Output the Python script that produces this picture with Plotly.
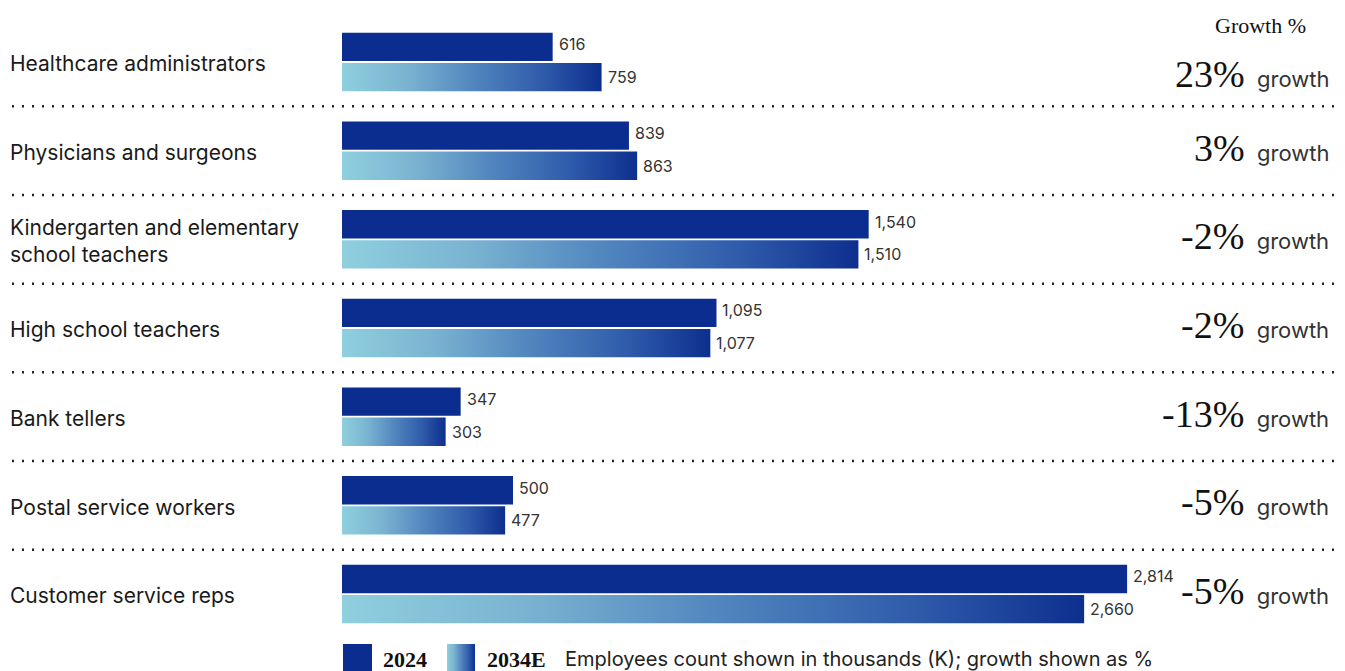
import plotly.graph_objects as go

# ---------------- data ----------------
categories = [
    "Healthcare administrators",
    "Physicians and surgeons",
    "Kindergarten and elementary<br>school teachers",
    "High school teachers",
    "Bank tellers",
    "Postal service workers",
    "Customer service reps",
]
emp_2024 = [616, 839, 1540, 1095, 347, 500, 2814]
emp_2034e = [759, 863, 1510, 1077, 303, 477, 2660]
growth_pct = [23, 3, -2, -2, -13, -5, -5]
series_names = ["2024", "2034E"]
note_text = "Employees count shown in thousands (K); growth shown as %"
header_text = "Growth %"

# ---------------- layout constants ----------------
W, H = 1345, 671
X0_PX = 342            # pixel where bars start
SCALE_MAIN = 0.342     # px per thousand employees (rows 1-6)
SCALE_BIG = 0.279      # compressed scale used for the last row in the original
ROW0_PX = 62
ROW_PITCH = 88.67
BAR_W = 0.32
GAP = 0.01
BIG_ROW = len(categories) - 1

DARK = "#0B2D8F"
GRAD = [[0.0, "#8FCFDE"], [0.25, "#7AB3D1"], [0.5, "#5287BF"],
        [0.78, "#2E5AAA"], [1.0, "#0D2F8E"]]
SANS = "Inter"
SERIF = "Liberation Serif"


def py(p):
    """pixel row -> y data coordinate"""
    return (p - ROW0_PX) / ROW_PITCH


def px_x(p):
    """pixel column -> main x data coordinate"""
    return (p - X0_PX) / SCALE_MAIN


fig = go.Figure()

rows = list(range(len(categories)))
main_rows = [r for r in rows if r != BIG_ROW]

# 2024 bars (solid)
fig.add_trace(go.Bar(
    orientation="h", y=main_rows, x=[emp_2024[r] for r in main_rows],
    width=BAR_W, offset=-(BAR_W + GAP), marker=dict(color=DARK, line=dict(width=0)),
    xaxis="x", yaxis="y", hoverinfo="skip", name=series_names[0]))
fig.add_trace(go.Bar(
    orientation="h", y=[BIG_ROW], x=[emp_2024[BIG_ROW]],
    width=BAR_W, offset=-(BAR_W + GAP), marker=dict(color=DARK, line=dict(width=0)),
    xaxis="x2", yaxis="y", hoverinfo="skip", name=series_names[0]))

# 2034E bars (horizontal gradient fills)
for r in rows:
    v = emp_2034e[r]
    y0, y1 = r + GAP, r + GAP + BAR_W
    fig.add_trace(go.Scatter(
        x=[0, v, v, 0, 0], y=[y0, y0, y1, y1, y0],
        mode="lines", line=dict(width=0, color="rgba(0,0,0,0)"),
        fill="toself", fillgradient=dict(type="horizontal", colorscale=GRAD),
        xaxis="x2" if r == BIG_ROW else "x", yaxis="y",
        hoverinfo="skip", name=series_names[1]))

annotations = []
shapes = []

# value labels
for r in rows:
    xr = "x2" if r == BIG_ROW else "x"
    for val, yy in ((emp_2024[r], r - GAP - BAR_W / 2 - 0.03), (emp_2034e[r], r + GAP + BAR_W / 2)):
        annotations.append(dict(
            x=val, y=yy, xref=xr, yref="y", text=f"{val:,}", showarrow=False,
            xanchor="left", yanchor="middle", xshift=4,
            font=dict(family=SANS, size=16, color="#333333")))

# category labels
for r, cat in enumerate(categories):
    annotations.append(dict(
        x=8 / W, y=r + 0.02, xref="paper", yref="y", text=cat, showarrow=False,
        xanchor="left", yanchor="middle", align="left",
        font=dict(family=SANS, size=21, color="#1a1a1a")))

# growth labels
for r, g in enumerate(growth_pct):
    ypix = ROW0_PX + ROW_PITCH * r + (12 if r == 0 else -3)
    annotations.append(dict(
        x=1331 / W, y=py(ypix), xref="paper", yref="y", showarrow=False,
        xanchor="right", yanchor="middle",
        text=(f"<span style='font-family:{SERIF};font-size:38px;color:#111111'>{g}%</span>"
              f"\u00a0\u00a0growth"),
        font=dict(family=SANS, size=22, color="#333333")))

# header
annotations.append(dict(
    x=1260 / W, y=py(25), xref="paper", yref="y", text=header_text, showarrow=False,
    xanchor="center", yanchor="middle",
    font=dict(family=SERIF, size=22, color="#111111")))

# dotted separators
for r in rows[:-1]:
    shapes.append(dict(
        type="line", xref="paper", yref="y", x0=12 / W, x1=1341 / W, y0=r + 0.5, y1=r + 0.5,
        line=dict(color="#222222", width=2.5, dash="2px,8px")))

# legend swatches
shapes.append(dict(
    type="rect", xref="paper", yref="paper", x0=343 / W, x1=372 / W,
    y0=0, y1=1 - 644 / H, fillcolor=DARK, line=dict(width=0)))
sx0, sx1 = px_x(447), px_x(475)
sy0, sy1 = py(644), py(671)
fig.add_trace(go.Scatter(
    x=[sx0, sx1, sx1, sx0, sx0], y=[sy0, sy0, sy1, sy1, sy0],
    mode="lines", line=dict(width=0, color="rgba(0,0,0,0)"),
    fill="toself", fillgradient=dict(type="horizontal", colorscale=GRAD),
    xaxis="x", yaxis="y", hoverinfo="skip", showlegend=False))

legend_y = py(659)
annotations.append(dict(
    x=381 / W, y=legend_y, xref="paper", yref="y", text=f"<b>{series_names[0]}</b>",
    showarrow=False, xanchor="left", yanchor="middle",
    font=dict(family=SERIF, size=22, color="#111111")))
annotations.append(dict(
    x=485 / W, y=legend_y, xref="paper", yref="y", text=f"<b>{series_names[1]}</b>",
    showarrow=False, xanchor="left", yanchor="middle",
    font=dict(family=SERIF, size=22, color="#111111")))
annotations.append(dict(
    x=563 / W, y=legend_y, xref="paper", yref="y", text=note_text,
    showarrow=False, xanchor="left", yanchor="middle",
    font=dict(family=SANS, size=20, color="#222222")))

fig.update_layout(
    width=W, height=H,
    margin=dict(l=0, r=0, t=0, b=0, pad=0),
    paper_bgcolor="white", plot_bgcolor="white",
    showlegend=False, barmode="overlay",
    xaxis=dict(range=[-X0_PX / SCALE_MAIN, (W - X0_PX) / SCALE_MAIN],
               visible=False, fixedrange=True),
    xaxis2=dict(range=[-X0_PX / SCALE_BIG, (W - X0_PX) / SCALE_BIG],
                overlaying="x", visible=False, fixedrange=True),
    yaxis=dict(range=[py(H), py(0)], visible=False, fixedrange=True),
    annotations=annotations, shapes=shapes,
)

fig.write_html("out.html")
